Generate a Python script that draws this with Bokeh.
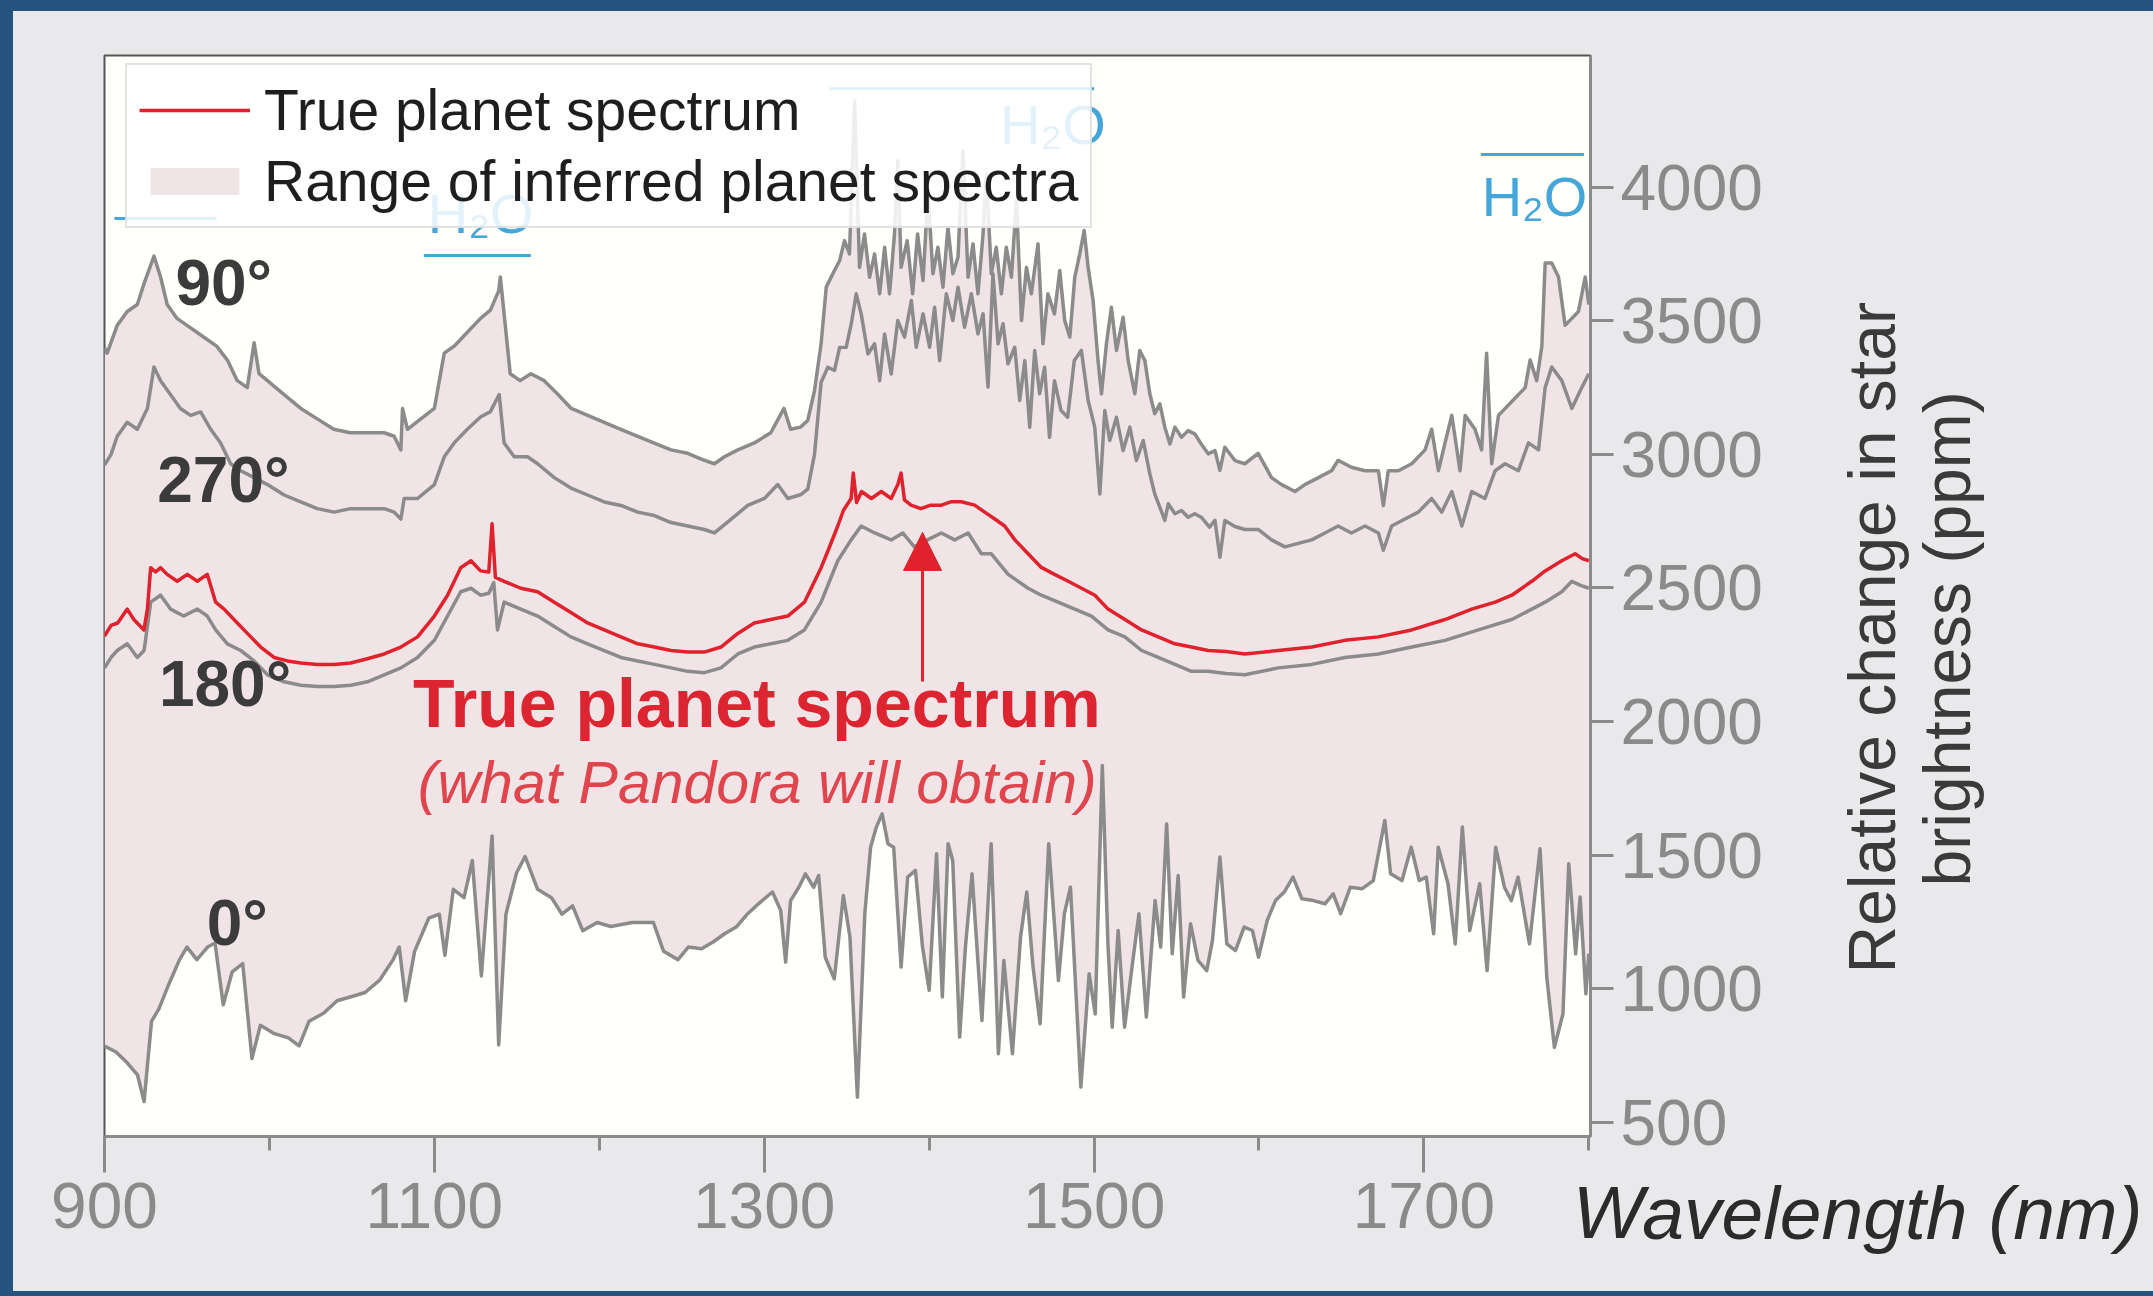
import math
from bokeh.plotting import figure
from bokeh.models import (Range1d, FixedTicker, Arrow, NormalHead,
                          Legend, LegendItem, LinearAxis)
from bokeh.core.properties import value
from bokeh.embed import file_html
from bokeh.resources import INLINE

FONT = "Liberation Sans"

# ---------------- data ----------------
x_tick_labels = [900, 1100, 1300, 1500, 1700]
x_minor_ticks = [1000, 1200, 1400, 1600, 1800]
y_tick_labels = [500, 1000, 1500, 2000, 2500, 3000, 3500, 4000]

# 90 deg phase (top curve)
x_90 = [900, 901.6, 907.7, 913.8, 919.9, 923.9, 930, 934, 938, 944,
        950, 956, 962, 968, 974.5, 980.5, 986.6, 990.7, 993.7, 998.8,
        1008.9, 1019, 1029, 1039, 1049, 1059, 1069.6, 1075.6, 1079.7, 1080.7,
        1083.7, 1091.8, 1100, 1106, 1112, 1120, 1128, 1134, 1139, 1140,
        1146, 1152, 1158.5, 1166.6, 1175, 1183, 1193, 1203, 1213, 1223,
        1233, 1243.5, 1253.6, 1263.7, 1269.8, 1275.9, 1284, 1294, 1304, 1312,
        1316, 1322, 1326.4, 1330.5, 1334.5, 1337.6, 1342.6, 1345.7, 1348.7, 1351.7,
        1354.8, 1357.8, 1360.8, 1363.9, 1366.9, 1370, 1373, 1376, 1379, 1381,
        1383, 1386.7, 1390, 1393, 1396.3, 1399.3, 1402.3, 1405.3, 1408.4, 1411.4,
        1414.4, 1417.5, 1420.5, 1423.6, 1426.6, 1429.6, 1432.7, 1434.7, 1437.7, 1440.7,
        1443.8, 1446.8, 1449.9, 1452.9, 1456, 1459, 1462, 1466, 1469, 1472,
        1476, 1479.2, 1482.2, 1485.3, 1488.3, 1491.3, 1494, 1496.4, 1499.4, 1502.4,
        1504.5, 1507.5, 1510.5, 1513.6, 1517.6, 1520.7, 1524.7, 1527.7, 1530.8, 1533.8,
        1536.8, 1539.9, 1542.9, 1546, 1549, 1553, 1557, 1561, 1565, 1569.2,
        1573.3, 1576.3, 1579.3, 1585.4, 1591.4, 1599.5, 1607.6, 1613.7, 1621.8, 1627.8,
        1636, 1644, 1648, 1656, 1664.3, 1672.4, 1675.4, 1678.4, 1684.5, 1692.6,
        1700.7, 1704.7, 1708.8, 1712.8, 1716.9, 1721.9, 1725, 1731, 1735, 1738,
        1741.1, 1745.2, 1753.3, 1761.4, 1764.4, 1768.4, 1771.5, 1773.5, 1777.5, 1781.6,
        1785.6, 1789.7, 1793.7, 1797.8, 1800]
y_90 = [3400, 3379, 3483, 3535, 3561, 3638, 3742, 3664, 3561, 3509,
        3483, 3457, 3431, 3405, 3353, 3276, 3250, 3418, 3302, 3276,
        3224, 3172, 3133, 3094, 3081, 3081, 3081, 3068, 3017, 3172,
        3094, 3133, 3172, 3379, 3405, 3457, 3509, 3540, 3612, 3664,
        3302, 3276, 3302, 3276, 3224, 3172, 3146, 3120, 3094, 3068,
        3043, 3017, 3004, 2978, 2965, 2991, 3017, 3043, 3081, 3172,
        3094, 3102, 3127, 3239, 3414, 3626, 3688, 3725, 3800, 3750,
        4324, 3700, 3825, 3663, 3750, 3601, 3775, 3601, 3825, 4100,
        3700, 3800, 3601, 3825, 3651, 3980, 3676, 3775, 3626, 3850,
        3676, 3738, 4137, 3663, 3788, 3601, 3825, 4050, 3676, 3775,
        3601, 3775, 3663, 3950, 3501, 3700, 3601, 3788, 3414, 3601,
        3526, 3688, 3501, 3439, 3663, 3750, 3838, 3700, 3576, 3351,
        3227, 3414, 3551, 3389, 3513, 3351, 3227, 3389, 3351, 3227,
        3152, 3189, 3102, 3039, 3102, 3064, 3089, 3077, 3039, 3002,
        3014, 2940, 3027, 2977, 2965, 3004, 2913, 2887, 2861, 2887,
        2913, 2939, 2978, 2952, 2939, 2939, 2809, 2939, 2939, 2965,
        3017, 3094, 2939, 3043, 3146, 2939, 3146, 3094, 3017, 3379,
        2965, 3146, 3198, 3250, 3353, 3276, 3405, 3716, 3716, 3664,
        3483, 3509, 3535, 3664, 3561]

# 270 deg phase
x_270 = [900, 904, 907.7, 913.8, 919.9, 926, 930, 934, 940, 946,
         952.2, 958.3, 964.4, 970.4, 976.5, 982.6, 990.7, 998.8, 1008.9, 1019,
         1029, 1039.2, 1049.3, 1059.4, 1069.6, 1075.6, 1079.7, 1081.7, 1089.8, 1100,
         1106, 1112, 1120, 1128, 1134, 1139.3, 1142.3, 1148.4, 1156.5, 1162.6,
         1172.7, 1182.8, 1192.9, 1203, 1213.1, 1223.3, 1233.4, 1243.5, 1253.6, 1263.7,
         1269.8, 1280, 1290, 1300.1, 1308.2, 1314.3, 1322.4, 1326.4, 1330.5, 1334.5,
         1338.6, 1342.6, 1345.7, 1349.7, 1352.8, 1355.8, 1358.8, 1362.9, 1366.9, 1370,
         1373, 1377, 1381, 1385.1, 1389.2, 1392.2, 1396.3, 1400.3, 1403.3, 1406.4,
         1410.4, 1414.4, 1417.5, 1421.5, 1425.6, 1429.6, 1432.7, 1435.7, 1438.7, 1441.8,
         1444.8, 1447.8, 1451.9, 1454.9, 1458, 1461, 1464, 1467, 1470, 1473,
         1476, 1480, 1484, 1488, 1492.3, 1496.4, 1500.4, 1503.5, 1506.5, 1509.5,
         1513.6, 1517.6, 1521.7, 1525.7, 1529.8, 1533.8, 1536.8, 1539.9, 1542.9, 1545,
         1549, 1553, 1557, 1561, 1565, 1570, 1573.3, 1576.3, 1579.3, 1585.4,
         1591.4, 1599.5, 1607.6, 1615.7, 1623.8, 1631.9, 1640, 1648, 1656, 1664.3,
         1672.4, 1675.4, 1680.4, 1688.5, 1696.6, 1704.7, 1710.8, 1716.9, 1723, 1729,
         1737, 1743.2, 1749.2, 1757.3, 1763.4, 1769.5, 1773.5, 1777.5, 1783.6, 1789.7,
         1795.7, 1800]
y_270 = [2960, 3000, 3068, 3120, 3094, 3172, 3327, 3276, 3224, 3172,
         3146, 3159, 3094, 3043, 2965, 2939, 2913, 2887, 2848, 2822,
         2797, 2784, 2797, 2797, 2797, 2784, 2758, 2835, 2835, 2887,
         2991, 3043, 3094, 3140, 3160, 3224, 3043, 2991, 2991, 2965,
         2913, 2874, 2848, 2822, 2809, 2784, 2771, 2745, 2732, 2719,
         2706, 2758, 2809, 2835, 2887, 2835, 2850, 2870, 3000, 3270,
         3326, 3314, 3400, 3401, 3489, 3601, 3526, 3376, 3414, 3276,
         3451, 3301, 3501, 3439, 3576, 3401, 3526, 3401, 3551, 3351,
         3601, 3501, 3626, 3476, 3601, 3451, 3526, 3252, 3676, 3414,
         3489, 3339, 3401, 3202, 3351, 3102, 3389, 3227, 3326, 3064,
         3276, 3164, 3139, 3351, 3389, 3202, 3102, 2852, 3164, 3052,
         3139, 3014, 3102, 2977, 3052, 2927, 2852, 2802, 2753, 2815,
         2778, 2790, 2765, 2778, 2765, 2728, 2753, 2615, 2753, 2730,
         2719, 2719, 2680, 2654, 2667, 2680, 2706, 2732, 2706, 2732,
         2706, 2641, 2732, 2758, 2784, 2835, 2784, 2861, 2732, 2861,
         2835, 2939, 2965, 2939, 3043, 3017, 3250, 3327, 3276, 3172,
         3250, 3302]

# 180 deg phase
x_180 = [900, 904, 907.7, 913.8, 919.9, 924, 928, 934, 940, 948,
         956.3, 962.3, 967.4, 974.5, 982.6, 990.7, 998.8, 1008.9, 1019, 1029.1,
         1039.2, 1049.3, 1059.4, 1069.6, 1079.7, 1089.8, 1100, 1108, 1116, 1122.2,
         1128, 1133, 1136, 1138.3, 1142.3, 1152.4, 1162.6, 1172.7, 1182.8, 1192.9,
         1203, 1213.1, 1223.3, 1233.4, 1243.5, 1253.6, 1263.7, 1273.8, 1284, 1294,
         1304, 1314.3, 1324.4, 1334.5, 1344.6, 1352.7, 1358.8, 1367, 1377, 1384,
         1391, 1399, 1407.4, 1415.5, 1423.6, 1431.7, 1437.7, 1447.9, 1460, 1468,
         1478.2, 1488.3, 1498.4, 1508.5, 1518.7, 1528.8, 1538.9, 1549, 1559, 1569.2,
         1580, 1591.4, 1611.7, 1632, 1652.1, 1672.4, 1692.6, 1712.8, 1733, 1753.3,
         1765.4, 1773.5, 1783.6, 1789.7, 1795, 1800]
y_180 = [2200, 2240, 2266, 2291, 2240, 2266, 2447, 2473, 2421, 2395,
         2421, 2395, 2343, 2291, 2266, 2227, 2175, 2149, 2136, 2131,
         2131, 2136, 2149, 2175, 2201, 2240, 2304, 2395, 2486, 2499,
         2473, 2480, 2520, 2343, 2447, 2421, 2395, 2356, 2317, 2291,
         2266, 2240, 2227, 2214, 2201, 2188, 2183, 2201, 2253, 2279,
         2291, 2304, 2343, 2447, 2602, 2680, 2732, 2706, 2680, 2706,
         2654, 2680, 2706, 2680, 2706, 2628, 2628, 2551, 2499, 2473,
         2447, 2421, 2395, 2343, 2317, 2266, 2240, 2214, 2188, 2188,
         2180, 2175, 2201, 2214, 2240, 2253, 2279, 2304, 2343, 2382,
         2421, 2447, 2486, 2525, 2510, 2499]

# true planet spectrum (red)
x_true = [900, 904, 908, 913.8, 917.8, 923.9, 926, 928, 931, 934,
          938, 944.1, 950.2, 956.3, 962.3, 967.4, 972.5, 978.5, 986.6, 994.7,
          1002.8, 1010.9, 1019, 1029.1, 1039.2, 1049.3, 1059.4, 1069.6, 1079.7, 1089.8,
          1100, 1108, 1116, 1122.2, 1128, 1133, 1135, 1137, 1142.3, 1152.4,
          1162.6, 1172.7, 1182.8, 1192.9, 1203, 1213.1, 1223.3, 1233.4, 1243.5, 1253.6,
          1263.7, 1273.8, 1284, 1294, 1304, 1314.3, 1324.4, 1334.5, 1340, 1344.6,
          1348, 1352.7, 1354, 1356, 1359, 1365, 1371, 1377, 1381, 1383,
          1385, 1389, 1395, 1401, 1407.4, 1413.5, 1419.5, 1427.6, 1433.7, 1439.8,
          1445.8, 1452, 1460, 1468, 1476, 1484.3, 1492.4, 1500.5, 1508.5, 1518.7,
          1528.8, 1538.9, 1549, 1559, 1569.2, 1580, 1591.4, 1611.7, 1632, 1652.1,
          1672.4, 1692.6, 1712.8, 1729, 1743.2, 1753.3, 1765.4, 1773.5, 1783.6, 1791.7,
          1796, 1800]
y_true = [2320, 2360, 2369, 2421, 2382, 2343, 2420, 2576, 2560, 2576,
          2551, 2525, 2551, 2525, 2551, 2447, 2421, 2382, 2330, 2279,
          2240, 2227, 2219, 2214, 2214, 2219, 2235, 2253, 2279, 2317,
          2395, 2473, 2576, 2602, 2564, 2560, 2740, 2540, 2525, 2499,
          2486, 2447, 2408, 2369, 2343, 2317, 2291, 2279, 2266, 2260,
          2260, 2279, 2330, 2369, 2382, 2395, 2447, 2576, 2660, 2732,
          2790, 2835, 2930, 2820, 2861, 2835, 2861, 2835, 2887, 2930,
          2830, 2810, 2797, 2810, 2810, 2823, 2823, 2810, 2784, 2758,
          2732, 2680, 2628, 2577, 2551, 2525, 2499, 2473, 2421, 2382,
          2343, 2317, 2291, 2279, 2266, 2262, 2253, 2266, 2279, 2304,
          2317, 2343, 2382, 2421, 2447, 2473, 2525, 2564, 2602, 2628,
          2610, 2602]

# 0 deg phase (bottom curve)
x_0 = [900, 907, 913.6, 920, 924, 928.5, 933, 939, 945.5, 950,
       956, 962.5, 967, 972, 977.4, 983.8, 989.4, 994.5, 1003, 1011.5,
       1018, 1024, 1033, 1041, 1050, 1058, 1066.8, 1075, 1078.7, 1082.6,
       1088, 1096.6, 1103, 1106.4, 1111.5, 1118, 1123, 1128.5, 1135, 1139,
       1143.4, 1149.8, 1155, 1162.6, 1171, 1177.4, 1183.8, 1190, 1198.7, 1207,
       1220, 1232.8, 1239, 1247.7, 1254, 1262, 1269, 1276, 1283, 1290,
       1296.5, 1305, 1310, 1313, 1316, 1321, 1325, 1330, 1333, 1337,
       1342.5, 1348, 1352, 1356.5, 1361, 1364.5, 1368, 1371.5, 1375, 1378.5,
       1383, 1387, 1391.7, 1396, 1400, 1404.5, 1408, 1411.5, 1414.3, 1418.5,
       1422, 1426, 1432, 1437.6, 1442, 1445.3, 1450.5, 1455.4, 1459.2, 1463,
       1467.3, 1472.5, 1478.4, 1482, 1485.7, 1492, 1497, 1500.7, 1505, 1508.4,
       1511, 1514.6, 1518.5, 1523, 1527.2, 1531.7, 1537, 1540.4, 1544, 1547.4,
       1551, 1554.3, 1558.5, 1563, 1568.3, 1571.8, 1576.3, 1580.5, 1585.7, 1591,
       1596, 1599.7, 1605, 1610, 1615.3, 1620.6, 1626, 1633, 1640, 1645,
       1649.5, 1655.4, 1662.4, 1669.3, 1676.3, 1679.8, 1686.7, 1692.3, 1697.2, 1701.4,
       1705.9, 1708.7, 1714.6, 1719, 1723.3, 1727.8, 1733.8, 1738.3, 1743.5, 1748.8,
       1753, 1757.1, 1764, 1770.4, 1774.5, 1779.1, 1784.3, 1787.8, 1792, 1794.7,
       1798.2, 1800]
y_0 = [786, 763, 724, 678, 578, 878, 925, 1017, 1109, 1156,
       1109, 1156, 1171, 940, 1063, 1094, 739, 863, 832, 816,
       786, 878, 909, 955, 971, 986, 1032, 1109, 1156, 955,
       1140, 1264, 1279, 1125, 1372, 1341, 1480, 1048, 1572, 790,
       1279, 1433, 1495, 1372, 1341, 1279, 1310, 1217, 1248, 1233,
       1248, 1248, 1140, 1109, 1156, 1150, 1175, 1206, 1231, 1281,
       1318, 1362, 1293, 1100, 1330, 1380, 1430, 1380, 1424, 1118,
       1037, 1349, 1193, 594, 1281, 1530, 1605, 1655, 1543, 1530,
       1081, 1418, 1443, 1156, 994, 1505, 969, 1543, 1480, 819,
       1156, 1430, 881, 1543, 757, 1106, 757, 1193, 1362, 1081,
       869, 1543, 1031, 1281, 1380, 632, 1056, 906, 1836, 1168,
       856, 1218, 856, 1081, 1281, 894, 1330, 1156, 1617, 1131,
       1424, 969, 1243, 1106, 1068, 1181, 1493, 1168, 1143, 1231,
       1218, 1118, 1256, 1330, 1362, 1418, 1337, 1330, 1318, 1355,
       1281, 1380, 1374, 1405, 1630, 1430, 1405, 1530, 1405, 1418,
       1206, 1530, 1393, 1168, 1605, 1218, 1393, 1068, 1530, 1380,
       1330, 1418, 1168, 1524, 1043, 781, 906, 1468, 1131, 1343,
       981, 1131]

# phase-angle labels
phase_labels = ["90°", "270°", "180°", "0°"]
phase_label_x = [943, 932, 933, 962]
phase_label_y = [3642, 2905, 2141, 1247]

# H2O band markers
h2o_x_start = [906, 1093.6, 1339.5, 1734.5]
h2o_x_end = [968, 1158.5, 1500, 1797]
h2o_y = [3883, 3744, 4369, 4122]
h2o_text = ["H₂O", "H₂O", "H₂O"]
h2o_text_x = [1096, 1443, 1735]
h2o_text_y = [3900, 4235, 3965]

# arrow & callout
arrow_x = 1396
arrow_y_start = 2150
arrow_y_end = 2708
callout_text = ["True planet spectrum", "(what Pandora will obtain)"]
callout_x = [1087, 1090]
callout_y = [2069, 1770]

# axis titles (rotated y lines start at the given value; x title starts at the given wavelength)
y_title_lines = ["Relative change in star", "brightness (ppm)"]
y_title_start = [1057, 1383]
x_title_text = "Wavelength (nm)"
x_title_start = 1790.3

GRAY = "#8b8b8b"
RED = "#e0222c"
PINK = "#f0e4e6"
BLUE = "#45a6d9"
BG = "#e9e9eb"

# ---------------- figure ----------------
p = figure(width=2153, height=1296,
           x_range=Range1d(900, 1801), y_range=Range1d(447, 4493),
           y_axis_location="right",
           output_backend="svg", toolbar_location=None,
           min_border=0,
           styles={"border-left": "13px solid #25557f",
                   "border-top": "11px solid #25557f",
                   "border-bottom": "5px solid #25557f",
                   "background-color": BG})
p.min_border_left = 91
p.min_border_top = 44
p.min_border_right = 576
p.min_border_bottom = 171

p.background_fill_color = "#fffffb"
p.border_fill_color = BG
p.outline_line_color = "#555555"
p.outline_line_width = 2
p.grid.visible = False

# fill between 0 deg and 90 deg curves
patch_x = list(x_90) + list(reversed(x_0))
patch_y = list(y_90) + list(reversed(y_0))
fill_r = p.patch(patch_x, patch_y, fill_color=PINK, line_color=None)

for xs, ys in [(x_90, y_90), (x_270, y_270), (x_180, y_180), (x_0, y_0)]:
    n = min(len(xs), len(ys))
    p.line(xs[:n], ys[:n], line_color=GRAY, line_width=3.5, line_join="round")

n = min(len(x_true), len(y_true))
red_r = p.line(x_true[:n], y_true[:n], line_color=RED, line_width=3.5, line_join="round")

# H2O markers
p.segment(x0=h2o_x_start, y0=h2o_y, x1=h2o_x_end, y1=h2o_y,
          line_color=BLUE, line_width=3)
p.text(x=h2o_text_x, y=h2o_text_y, text=h2o_text,
       text_font=value(FONT), text_font_size="56px", text_color=BLUE,
       text_baseline="alphabetic")

# phase labels
p.text(x=phase_label_x, y=phase_label_y, text=phase_labels,
       text_font=value(FONT), text_font_size="64px", text_font_style="bold",
       text_color="#3b3b3b", text_baseline="alphabetic")

# callout texts
p.text(x=[callout_x[0]], y=[callout_y[0]], text=[callout_text[0]],
       text_font=value(FONT), text_font_size="68px", text_font_style="bold",
       text_color="#dc2530", text_baseline="alphabetic")
p.text(x=[callout_x[1]], y=[callout_y[1]], text=[callout_text[1]],
       text_font=value(FONT), text_font_size="59px", text_font_style="italic",
       text_color="#e0454e", text_baseline="alphabetic")

p.add_layout(Arrow(end=NormalHead(size=38, fill_color=RED, line_color=RED),
                   x_start=arrow_x, y_start=arrow_y_start,
                   x_end=arrow_x, y_end=arrow_y_end,
                   line_color=RED, line_width=3))

# axes
xa = p.xaxis[0]
xa.ticker = FixedTicker(ticks=x_tick_labels, minor_ticks=x_minor_ticks)
ya = p.yaxis[0]
ya.ticker = FixedTicker(ticks=y_tick_labels)
for ax in (xa, ya):
    ax.axis_line_color = GRAY
    ax.axis_line_width = 3
    ax.major_tick_line_color = GRAY
    ax.major_tick_line_width = 3
    ax.major_tick_in = 0
    ax.minor_tick_in = 0
    ax.major_label_text_font = FONT
    ax.major_label_text_font_size = "64px"
    ax.major_label_text_color = "#8a8a8a"
xa.major_tick_out = 36
xa.minor_tick_out = 14
xa.minor_tick_line_color = GRAY
xa.minor_tick_line_width = 3
xa.major_label_standoff = 10
ya.major_tick_out = 23
ya.minor_tick_line_color = None
ya.major_label_standoff = 7


def bare_axis(ticks, overrides, orientation, standoff, size, style, color):
    ax = LinearAxis(ticker=FixedTicker(ticks=ticks),
                    major_label_overrides=overrides,
                    major_label_orientation=orientation)
    ax.axis_line_color = None
    ax.major_tick_line_color = None
    ax.minor_tick_line_color = None
    ax.major_tick_out = 0
    ax.major_tick_in = 0
    ax.minor_tick_out = 0
    ax.major_label_standoff = standoff
    ax.major_label_text_font = FONT
    ax.major_label_text_font_size = size
    ax.major_label_text_font_style = style
    ax.major_label_text_color = color
    return ax


# y axis title: two rotated lines, each carried by a bare extra right axis
for txt, start, standoff in zip(y_title_lines, y_title_start, [107, -3]):
    p.add_layout(bare_axis([start], {start: txt}, math.pi / 2, standoff,
                           "66px", "normal", "#3a3a3a"), "right")

# x axis title: a bare extra bottom axis, its label starting at the given wavelength
p.add_layout(bare_axis([x_title_start], {x_title_start: x_title_text}, -0.0001, -18,
                       "75px", "italic", "#2b2b2b"), "below")

legend = Legend(items=[LegendItem(label="True planet spectrum", renderers=[red_r]),
                       LegendItem(label="Range of inferred planet spectra", renderers=[fill_r])],
                location=(21, 908))
legend.label_text_font = FONT
legend.label_text_font_size = "57px"
legend.label_text_color = "#1e1e1e"
legend.glyph_width = 111
legend.glyph_height = 34
legend.label_standoff = 14
legend.padding = 12
legend.spacing = 5
legend.margin = 0
legend.background_fill_color = "white"
legend.background_fill_alpha = 0.85
legend.border_line_color = "#c8c8c8"
legend.border_line_width = 2
p.add_layout(legend)

open("out.html", "w").write(file_html(p, INLINE))
